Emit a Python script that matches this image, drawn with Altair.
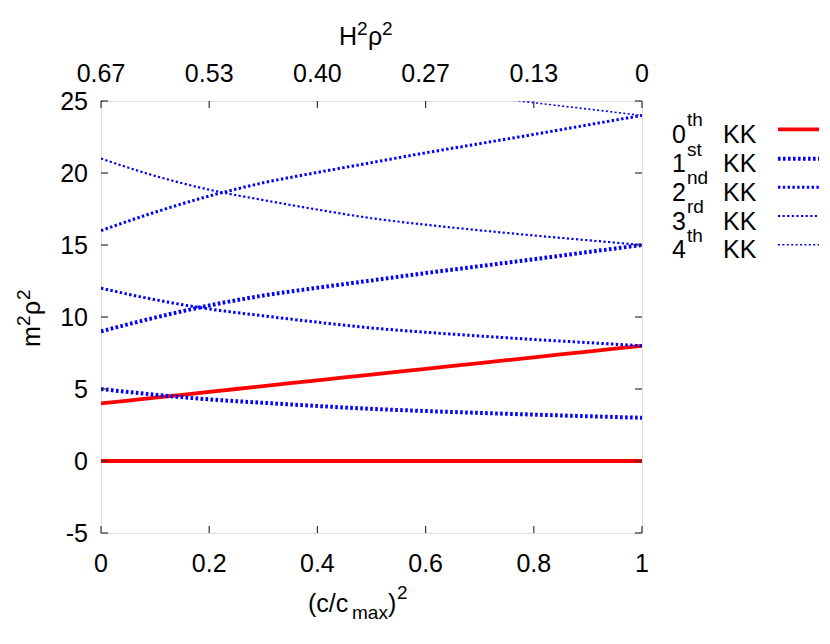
import altair as alt
import pandas as pd

# ---------------- data ----------------
X_GRID = [0.0, 0.1, 0.2, 0.3, 0.4, 0.5, 0.6, 0.7, 0.8, 0.9, 1.0]
KK0_ZERO = [0.0, 0.0, 0.0, 0.0, 0.0, 0.0, 0.0, 0.0, 0.0, 0.0, 0.0]
KK0_RISE = [4.0, 4.4, 4.8, 5.2, 5.6, 6.0, 6.4, 6.8, 7.2, 7.6, 8.0]
KK1_FALL = [5.0, 4.6, 4.28, 4.04, 3.82, 3.62, 3.47, 3.34, 3.22, 3.11, 3.0]
KK1_RISE = [9.0, 9.96, 10.8, 11.49, 12.03, 12.54, 13.05, 13.53, 14.01, 14.51, 15.0]
KK2_FALL = [12.0, 11.2, 10.56, 10.08, 9.64, 9.24, 8.94, 8.68, 8.44, 8.22, 8.0]
KK2_RISE = [16.0, 17.28, 18.4, 19.32, 20.04, 20.72, 21.4, 22.04, 22.68, 23.34, 24.0]
KK3_FALL = [21.0, 19.8, 18.84, 18.12, 17.46, 16.86, 16.41, 16.02, 15.66, 15.33, 15.0]
KK3_RISE = [25.0, 26.6, 28.0, 29.15, 30.05, 30.9, 31.75, 32.55, 33.35, 34.18, 35.0]
KK4_FALL = [32.0, 30.4, 29.12, 28.16, 27.28, 26.48, 25.88, 25.36, 24.88, 24.44, 24.0]

X_TICKS = [0, 0.2, 0.4, 0.6, 0.8, 1]
X_LABELS = ["0", "0.2", "0.4", "0.6", "0.8", "1"]
Y_TICKS = [-5, 0, 5, 10, 15, 20, 25]
Y_LABELS = ["-5", "0", "5", "10", "15", "20", "25"]
TOP_LABELS = ["0.67", "0.53", "0.40", "0.27", "0.13", "0"]
LEGEND_NUM = ["0", "1", "2", "3", "4"]
LEGEND_SUP = ["th", "st", "nd", "rd", "th"]

GROUPS = {
    "0": [("a", KK0_ZERO), ("b", KK0_RISE)],
    "1": [("a", KK1_FALL), ("b", KK1_RISE)],
    "2": [("a", KK2_FALL), ("b", KK2_RISE)],
    "3": [("a", KK3_FALL), ("b", KK3_RISE)],
    "4": [("a", KK4_FALL)],
}

# ---------------- styling ----------------
FONT = "Liberation Sans"
FS = 25
SFS = 19
W, H = 541, 432
STYLE = {
    "0": dict(color="#ff0000", width=3.8, dash=None),
    "1": dict(color="#0000ff", width=4.0, dash=[2.6, 2.4]),
    "2": dict(color="#0000ff", width=3.0, dash=[2.4, 2.4]),
    "3": dict(color="#0000ff", width=2.2, dash=[2.2, 2.4]),
    "4": dict(color="#0000ff", width=1.6, dash=[2.0, 2.4]),
}

xscale = alt.Scale(domain=[0, 1], nice=False, zero=False)
yscale = alt.Scale(domain=[-5, 25], nice=False, zero=False)
XE = alt.X("x:Q", scale=xscale, axis=None)
YE = alt.Y("y:Q", scale=yscale, axis=None)

layers = []

# curves
for g, curves in GROUPS.items():
    rows = []
    for cid, ys in curves:
        for x, y in zip(X_GRID, ys):
            rows.append({"x": x, "y": y, "curve": g + cid})
    df = pd.DataFrame(rows)
    st = STYLE[g]
    mk = dict(color=st["color"], strokeWidth=st["width"], clip=True,
              interpolate="monotone", strokeCap="butt")
    if st["dash"]:
        mk["strokeDash"] = st["dash"]
    layers.append(alt.Chart(df).mark_line(**mk).encode(x=XE, y=YE, detail="curve:N"))

# inward ticks
tick_col = "#333333"
xt = pd.DataFrame({"x": X_TICKS, "lab": X_LABELS, "top": TOP_LABELS})
yt = pd.DataFrame({"y": Y_TICKS, "lab": Y_LABELS})
for y0, y1 in [(H, H - 7), (0, 7)]:
    layers.append(alt.Chart(xt).mark_rule(color=tick_col, strokeWidth=1.2).encode(
        x=XE, y=alt.value(y0), y2=alt.value(y1)))
for x0, x1 in [(0, 7), (W, W - 7)]:
    layers.append(alt.Chart(yt).mark_rule(color=tick_col, strokeWidth=1.2).encode(
        y=YE, x=alt.value(x0), x2=alt.value(x1)))

# tick labels
layers.append(alt.Chart(xt).mark_text(font=FONT, fontSize=FS, color="black",
                                      baseline="alphabetic", align="center").encode(
    x=XE, y=alt.value(H + 39), text="lab:N"))
layers.append(alt.Chart(xt).mark_text(font=FONT, fontSize=FS, color="black",
                                      baseline="alphabetic", align="center").encode(
    x=XE, y=alt.value(-19), text="top:N"))
layers.append(alt.Chart(yt).mark_text(font=FONT, fontSize=FS, color="black",
                                      baseline="alphabetic", align="right", dy=9).encode(
    y=YE, x=alt.value(-13), text="lab:N"))


def txt(s, x, y, size=FS, align="left", angle=0, baseline="alphabetic"):
    return alt.Chart(pd.DataFrame({"t": [s]})).mark_text(
        font=FONT, fontSize=size, color="black", align=align, baseline=baseline,
        angle=angle).encode(x=alt.value(x), y=alt.value(y), text="t:N")


# top title H^2 rho^2
layers.append(txt("H", 238, -56))
layers.append(txt("2", 256, -66, size=SFS))
layers.append(txt("\u03c1", 267, -56))
layers.append(txt("2", 281, -66, size=SFS))
# y title m^2 rho^2 (rotated)
layers.append(txt("m", -61, 246, angle=270))
layers.append(txt("2", -71, 225, size=SFS, angle=270))
layers.append(txt("\u03c1", -61, 214, angle=270))
layers.append(txt("2", -71, 199, size=SFS, angle=270))
# bottom title (c/c_max)^2
layers.append(txt("(c/c", 207, 511))
layers.append(txt("max", 251, 518, size=SFS))
layers.append(txt(")", 287, 511))
layers.append(txt("2", 296, 498, size=SFS))

# legend
row_y = [28.3, 57.7, 86.3, 115.0, 143.7]
for i, g in enumerate(["0", "1", "2", "3", "4"]):
    ly = row_y[i]
    layers.append(txt(LEGEND_NUM[i], 571, ly + 13.5))
    layers.append(txt(LEGEND_SUP[i], 586, ly - 3, size=SFS))
    layers.append(txt("KK", 622, ly + 13.5))
    st = STYLE[g]
    mk = dict(color=st["color"], strokeWidth=st["width"], strokeCap="butt")
    if st["dash"]:
        mk["strokeDash"] = st["dash"]
    layers.append(alt.Chart(pd.DataFrame({"k": [g]})).mark_rule(**mk).encode(
        x=alt.value(677), x2=alt.value(718), y=alt.value(ly)))

chart = alt.layer(*layers).properties(
    width=W, height=H,
    autosize=alt.AutoSizeParams(type="none"),
    padding={"left": 93, "top": 93, "right": 180, "bottom": 103},
).configure_view(stroke="#222222", strokeWidth=1.5).configure(background="white")

chart.save("out.html", embed_options={"renderer": "svg", "actions": False})
